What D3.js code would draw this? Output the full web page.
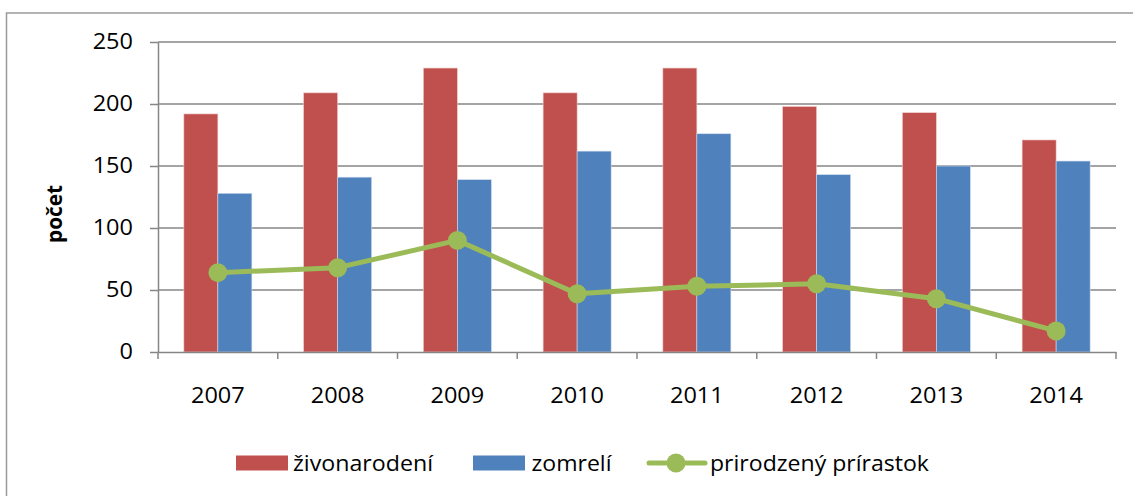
<!DOCTYPE html>
<html>
<head>
<meta charset="utf-8">
<script src="https://cdn.jsdelivr.net/npm/d3@7"></script>
<style>
  html, body { margin: 0; padding: 0; background: #fff; }
  svg { display: block; }
  text { font-family: "Open Sans", "Liberation Sans", sans-serif; fill: #000; }
</style>
</head>
<body>
<svg id="chart" width="1133" height="496"></svg>
<script>
// ---- data ----
const years = ["2007", "2008", "2009", "2010", "2011", "2012", "2013", "2014"];
const births = [192, 209, 229, 209, 229, 198, 193, 171];     // živonarodení
const deaths = [128, 141, 139, 162, 176, 143, 150, 154];     // zomrelí
const increase = [64, 68, 90, 47, 53, 55, 43, 17];           // prirodzený prírastok
const yTicks = [0, 50, 100, 150, 200, 250];
const seriesNames = ["živonarodení", "zomrelí", "prirodzený prírastok"];
const yTitle = "počet";

// ---- styles ----
const RED = "#C0504D", BLUE = "#4F81BD", GREEN = "#9BBB59", GRID = "#868686";
const SX = 1.12; // horizontal stretch of tick text, as in the reference
const svg = d3.select("#chart");

// outer frame
svg.append("rect").attr("x", 6.5).attr("y", 13).attr("width", 1140).attr("height", 520)
  .attr("fill", "none").attr("stroke", "#9a9a9a").attr("stroke-width", 1.5);

const x = d3.scaleBand().domain(years).range([158, 1116]).paddingInner(0.432).paddingOuter(0.216);
const xs = d3.scaleBand().domain(["b", "d"]).range([0, x.bandwidth()]);
const y = d3.scaleLinear().domain([0, 250]).range([352, 42]);

// gridlines
svg.append("g").selectAll("line").data(yTicks.filter(d => d > 0)).join("line")
  .attr("x1", 158).attr("x2", 1116)
  .attr("y1", d => y(d)).attr("y2", d => y(d))
  .attr("stroke", GRID).attr("stroke-width", 1.5);

// bars
const groups = svg.append("g").selectAll("g").data(years).join("g")
  .attr("transform", d => `translate(${x(d)},0)`);
groups.append("rect")
  .attr("x", xs("b")).attr("width", xs.bandwidth())
  .attr("y", (d, i) => y(births[i])).attr("height", (d, i) => y(0) - y(births[i]))
  .attr("fill", RED).attr("stroke", "#f0d0cf").attr("stroke-width", 0.6);
groups.append("rect")
  .attr("x", xs("d")).attr("width", xs.bandwidth())
  .attr("y", (d, i) => y(deaths[i])).attr("height", (d, i) => y(0) - y(deaths[i]))
  .attr("fill", BLUE).attr("stroke", "#d0ddef").attr("stroke-width", 0.6);

// y axis
const yAxis = svg.append("g").attr("transform", "translate(158,0)")
  .call(d3.axisLeft(y).tickValues(yTicks).tickSize(8).tickSizeOuter(0));
yAxis.select(".domain").attr("stroke", GRID).attr("stroke-width", 1.5);
yAxis.selectAll(".tick line").attr("stroke", GRID).attr("stroke-width", 1.5);
yAxis.selectAll(".tick text")
  .attr("x", 0).attr("dy", "0.32em")
  .attr("transform", `translate(-25,0) scale(${SX},1)`)
  .style("font-size", "21px").attr("fill", "#000");

// x axis
const xAxis = svg.append("g").attr("transform", "translate(0,352)")
  .call(d3.axisBottom(x).tickSize(0).tickSizeOuter(0));
xAxis.select(".domain").attr("stroke", GRID).attr("stroke-width", 1.5);
xAxis.selectAll(".tick text")
  .attr("y", 0).attr("dy", 0)
  .attr("transform", `translate(0,51) scale(${SX},1)`)
  .style("font-size", "21px").attr("fill", "#000");
// category boundary tick marks
const bounds = years.map(d => x(d) - x.step() * x.paddingInner() / 2)
  .concat([x(years[years.length - 1]) + x.bandwidth() + x.step() * x.paddingInner() / 2]);
xAxis.append("g").selectAll("line").data(bounds).join("line")
  .attr("x1", d => d).attr("x2", d => d).attr("y1", 0).attr("y2", 7)
  .attr("stroke", GRID).attr("stroke-width", 1.5);

// y title
svg.append("text")
  .attr("transform", `translate(62,214) rotate(-90)`)
  .attr("text-anchor", "middle")
  .style("font-size", "21px").style("font-weight", "bold")
  .attr("textLength", 58).attr("lengthAdjust", "spacingAndGlyphs")
  .text(yTitle);

// line
const cx = d => x(d) + x.bandwidth() / 2;
const line = d3.line().x((d, i) => cx(years[i])).y(d => y(d));
svg.append("path").datum(increase).attr("d", line)
  .attr("fill", "none").attr("stroke", GREEN).attr("stroke-width", 5).attr("stroke-linejoin", "round");
svg.append("g").selectAll("circle").data(increase).join("circle")
  .attr("cx", (d, i) => cx(years[i])).attr("cy", d => y(d)).attr("r", 9.5)
  .attr("fill", GREEN);

// legend
const lg = svg.append("g");
const ly = 463;
const legText = (tx, w, s) => lg.append("text").attr("x", tx).attr("y", ly + 7.5)
  .style("font-size", "21px").attr("textLength", w).attr("lengthAdjust", "spacingAndGlyphs").text(s);
lg.append("rect").attr("x", 236).attr("y", ly - 7.5).attr("width", 52).attr("height", 15).attr("fill", RED);
legText(293, 140, seriesNames[0]);
lg.append("rect").attr("x", 473).attr("y", ly - 7.5).attr("width", 52).attr("height", 15).attr("fill", BLUE);
legText(531.5, 80, seriesNames[1]);
lg.append("line").attr("x1", 649).attr("x2", 705).attr("y1", ly).attr("y2", ly)
  .attr("stroke", GREEN).attr("stroke-width", 5).attr("stroke-linecap", "round");
lg.append("circle").attr("cx", 676).attr("cy", ly).attr("r", 9.5).attr("fill", GREEN);
legText(710, 219, seriesNames[2]);
</script>
</body>
</html>
